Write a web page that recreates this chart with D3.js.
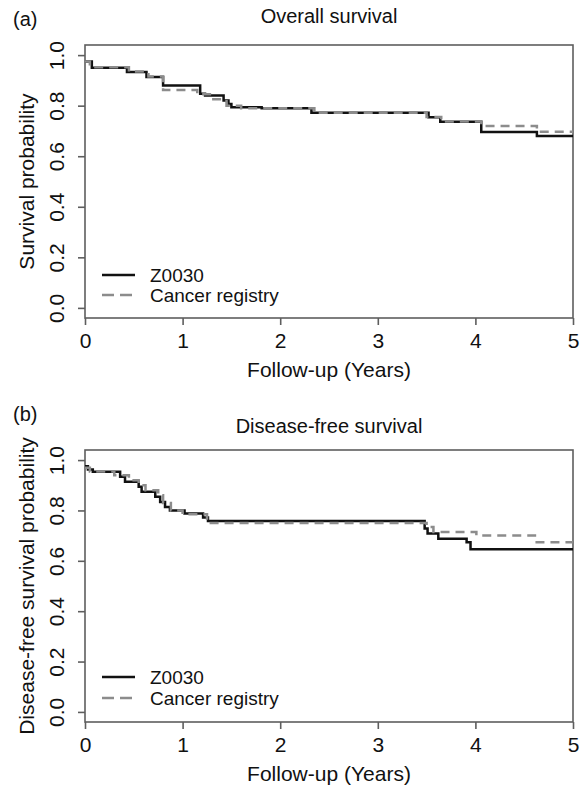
<!DOCTYPE html>
<html>
<head>
<meta charset="utf-8">
<script src="https://cdn.jsdelivr.net/npm/d3@7"></script>
<style>
  html, body { margin: 0; padding: 0; background: #fff; }
  svg text { font-family: "Liberation Sans", Arial, sans-serif; fill: #111; }
</style>
</head>
<body>
<svg id="chart" width="581" height="791"></svg>
<script>
// ---- data ----
const xTicks = [0, 1, 2, 3, 4, 5];
const yTicks = [0.0, 0.2, 0.4, 0.6, 0.8, 1.0];
const yTickLabels = ["0.0", "0.2", "0.4", "0.6", "0.8", "1.0"];
const seriesNames = ["Z0030", "Cancer registry"];

// (a) Overall survival
const osZ0030Time = [0, 0.07, 0.43, 0.63, 0.80, 1.18, 1.23, 1.42, 1.47, 1.50, 1.81, 2.32, 3.52, 3.64, 4.06, 4.63];
const osZ0030Surv = [0.975, 0.950, 0.933, 0.913, 0.880, 0.847, 0.840, 0.820, 0.807, 0.794, 0.790, 0.772, 0.754, 0.736, 0.696, 0.680];
const osRegTime = [0, 0.05, 0.45, 0.65, 0.80, 1.15, 1.30, 1.45, 1.60, 2.35, 3.50, 3.65, 4.06, 4.63];
const osRegSurv = [0.975, 0.952, 0.935, 0.915, 0.862, 0.845, 0.825, 0.800, 0.790, 0.772, 0.755, 0.737, 0.720, 0.697];

// (b) Disease-free survival
const dfsZ0030Time = [0, 0.03, 0.08, 0.36, 0.41, 0.55, 0.58, 0.72, 0.77, 0.82, 0.87, 1.02, 1.21, 1.26, 3.48, 3.51, 3.62, 3.91, 3.95];
const dfsZ0030Surv = [0.975, 0.963, 0.954, 0.934, 0.914, 0.894, 0.874, 0.854, 0.834, 0.814, 0.800, 0.788, 0.772, 0.758, 0.728, 0.708, 0.688, 0.674, 0.646];
const dfsRegTime = [0, 0.05, 0.30, 0.45, 0.55, 0.62, 0.75, 0.80, 0.88, 1.00, 1.25, 3.50, 3.57, 4.01, 4.61];
const dfsRegSurv = [0.970, 0.955, 0.940, 0.920, 0.900, 0.880, 0.860, 0.830, 0.800, 0.785, 0.750, 0.734, 0.714, 0.701, 0.674];

const panels = [
  { tag: "(a)", title: "Overall survival", ylab: "Survival probability",
    top: 45, bottom: 318, tagY: 26, titleY: 23, tickY: 348, xlabY: 377, legY: [275, 295],
    series: [[osZ0030Time, osZ0030Surv], [osRegTime, osRegSurv]] },
  { tag: "(b)", title: "Disease-free survival", ylab: "Disease-free survival probability",
    top: 450, bottom: 722, tagY: 421, titleY: 433, tickY: 752, xlabY: 781, legY: [677, 698],
    series: [[dfsZ0030Time, dfsZ0030Surv], [dfsRegTime, dfsRegSurv]] }
];

const svg = d3.select("#chart");
const left = 85, right = 573;
const styles = [
  { stroke: "#111", dash: null, width: 2.5 },
  { stroke: "#8c8c8c", dash: "9,6", width: 2.5 }
];
const axisColor = "#5e5e5e";
const FONT = "'Liberation Sans', Arial, sans-serif";

panels.forEach(p => {
  const g = svg.append("g");
  const x = d3.scaleLinear().domain([0, 5]).range([left, right]);
  const span = p.bottom - p.top;
  // R-style 4% padding on y
  const y = d3.scaleLinear().domain([-0.04, 1.04]).range([p.bottom, p.top]);

  // box
  g.append("rect").attr("x", left).attr("y", p.top)
    .attr("width", right - left).attr("height", span)
    .attr("fill", "none").attr("stroke", axisColor).attr("stroke-width", 1.6);

  // x axis
  const xAxis = d3.axisBottom(x).tickValues(xTicks).tickFormat(d3.format("d")).tickSize(7).tickPadding(3);
  const xg = g.append("g").attr("transform", `translate(0,${p.bottom})`).call(xAxis);
  xg.select(".domain").remove();
  xg.selectAll(".tick line").attr("stroke", axisColor).attr("stroke-width", 1.6);
  xg.selectAll(".tick text").attr("font-size", 21).attr("fill", "#111")
    .attr("dy", null).attr("y", p.tickY - p.bottom)
    .style("font-family", FONT);

  // y axis
  const yAxis = d3.axisLeft(y).tickValues(yTicks).tickFormat((d, i) => yTickLabels[i]).tickSize(7);
  const yg = g.append("g").attr("transform", `translate(${left},0)`).call(yAxis);
  yg.select(".domain").remove();
  yg.selectAll(".tick line").attr("stroke", axisColor).attr("stroke-width", 1.6);
  yg.selectAll(".tick text").attr("font-size", 21).attr("fill", "#111")
    .attr("x", null).attr("dy", null)
    .attr("text-anchor", "middle")
    .attr("transform", "translate(-21,0) rotate(-90)")
    .style("font-family", FONT);

  // titles
  g.append("text").attr("x", 13).attr("y", p.tagY).attr("font-size", 20).text(p.tag);
  g.append("text").attr("x", (left + right) / 2).attr("y", p.titleY)
    .attr("text-anchor", "middle").attr("font-size", 20).text(p.title);
  g.append("text").attr("x", (left + right) / 2).attr("y", p.xlabY)
    .attr("text-anchor", "middle").attr("font-size", 21).text("Follow-up (Years)");
  g.append("text").attr("transform", `translate(34,${y(0.5)}) rotate(-90)`)
    .attr("text-anchor", "middle").attr("font-size", 21).text(p.ylab);

  // curves (solid first, dashed drawn on top as in the original R plot)
  const line = d3.line().x(d => x(d[0])).y(d => y(d[1])).curve(d3.curveStepAfter);
  [0, 1].forEach(si => {
    const [t, s] = p.series[si];
    const pts = t.map((tt, i) => [tt, s[i]]);
    pts.push([5, s[s.length - 1]]);
    g.append("path").attr("d", line(pts)).attr("fill", "none")
      .attr("stroke", styles[si].stroke).attr("stroke-width", styles[si].width)
      .attr("stroke-dasharray", styles[si].dash);
  });

  // legend
  seriesNames.forEach((name, i) => {
    const ly = p.legY[i];
    g.append("line").attr("x1", 102).attr("x2", 135).attr("y1", ly).attr("y2", ly)
      .attr("stroke", styles[i].stroke).attr("stroke-width", styles[i].width)
      .attr("stroke-dasharray", i === 1 ? "12,6" : null);
    g.append("text").attr("x", 150).attr("y", ly + 7).attr("font-size", 19).text(name);
  });
});
</script>
</body>
</html>
